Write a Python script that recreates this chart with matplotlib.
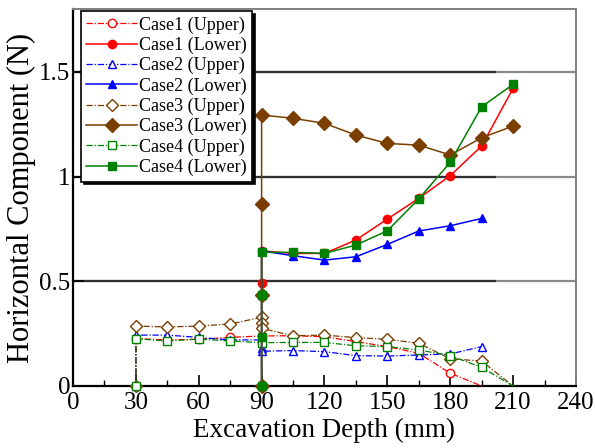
import matplotlib
matplotlib.use("Agg")
import matplotlib.pyplot as plt
from matplotlib.ticker import MultipleLocator, FormatStrFormatter

plt.rcParams['font.family'] = ['Liberation Serif', 'DejaVu Serif']

# 数据：掘削深さ (mm) と水平成分 (N)
case1_up_x = [30, 30, 45, 60, 75, 90, 105, 120, 135, 150, 165, 180, 195]
case1_up_y = [0, 0.226, 0.22, 0.223, 0.232, 0.239, 0.24, 0.235, 0.212, 0.188, 0.156, 0.061, 0]
case1_lo_x = [90, 90, 90, 105, 120, 135, 150, 165, 180, 195, 210]
case1_lo_y = [0, 0.493, 0.645, 0.633, 0.633, 0.697, 0.797, 0.896, 1.004, 1.146, 1.421]

case2_up_x = [30, 30, 45, 60, 75, 90, 90, 90, 105, 120, 135, 150, 165, 180, 195]
case2_up_y = [0, 0.243, 0.243, 0.232, 0.22, 0.22, 0.18, 0.166, 0.169, 0.164, 0.145, 0.143, 0.148, 0.153, 0.188]
case2_lo_x = [90, 90, 90, 105, 120, 135, 150, 165, 180, 195]
case2_lo_y = [0, 0.434, 0.645, 0.622, 0.601, 0.617, 0.676, 0.740, 0.765, 0.800]

case3_up_x = [30, 30, 45, 60, 75, 90, 90, 90, 105, 120, 135, 150, 165, 180, 195, 210]
case3_up_y = [0, 0.286, 0.282, 0.286, 0.296, 0.328, 0.299, 0.275, 0.240, 0.243, 0.231, 0.223, 0.204, 0.130, 0.119, 0]
case3_lo_x = [90, 90, 90, 90, 105, 120, 135, 150, 165, 180, 195, 210]
case3_lo_y = [0, 0.434, 0.870, 1.294, 1.278, 1.254, 1.198, 1.158, 1.150, 1.103, 1.185, 1.241]

case4_up_x = [30, 30, 45, 60, 75, 90, 105, 120, 135, 150, 165, 180, 195, 210]
case4_up_y = [0, 0.226, 0.215, 0.224, 0.215, 0.207, 0.208, 0.208, 0.192, 0.188, 0.172, 0.145, 0.089, 0]
case4_lo_x = [90, 90, 90, 90, 105, 120, 135, 150, 165, 180, 195, 210]
case4_lo_y = [0, 0.235, 0.434, 0.638, 0.638, 0.633, 0.673, 0.741, 0.893, 1.068, 1.333, 1.440]

labels = ['Case1 (Upper)', 'Case1 (Lower)', 'Case2 (Upper)', 'Case2 (Lower)',
          'Case3 (Upper)', 'Case3 (Lower)', 'Case4 (Upper)', 'Case4 (Lower)']

red = '#ff0000'
blue = '#0000ff'
brown = '#7a3e00'
green = '#008000'

fig = plt.figure(figsize=(5.95, 4.48), dpi=100)
ax = fig.add_axes([0.1227, 0.1384, 0.8453, 0.8416])

# 横グリッド（右側は薄い）
for yv in [0.5, 1.0, 1.5]:
    ax.axhline(yv, color='#8a8a8a', lw=1.6, zorder=1)
    ax.plot([0, 201.5], [yv, yv], color='#303030', lw=1.6, zorder=1.1)

up_dash = (0, (5, 1.5, 1, 1.5))
series = [
    (case1_up_x, case1_up_y, red, 'o', True),
    (case1_lo_x, case1_lo_y, red, 'o', False),
    (case2_up_x, case2_up_y, blue, '^', True),
    (case2_lo_x, case2_lo_y, blue, '^', False),
    (case3_up_x, case3_up_y, brown, 'D', True),
    (case3_lo_x, case3_lo_y, brown, 'D', False),
    (case4_up_x, case4_up_y, green, 's', True),
    (case4_lo_x, case4_lo_y, green, 's', False),
]

for (xs, ys, c, m, upper), lab in zip(series, labels):
    if upper:
        # 最後の0点はマーカーなし
        n = len(xs) - 1 if ys[-1] == 0 else len(xs)
        ax.plot(xs, ys, color=c, ls=up_dash, lw=0.9, marker=m, ms=6.5 if m == 'D' else 6,
                mfc='white', mec=c, mew=1.0, label=lab, zorder=3, clip_on=False,
                markevery=list(range(n)))
    else:
        ax.plot(xs, ys, color=c, ls='-', lw=1.1, marker=m, ms=7 if m == 'D' else 6,
                mfc=c, mec=c, label=lab, zorder=4, clip_on=False)

ax.set_xlim(0, 240)
ax.set_ylim(0, 1.8)
ax.xaxis.set_major_locator(MultipleLocator(30))
ax.xaxis.set_minor_locator(MultipleLocator(15))
ax.set_yticks([0, 0.5, 1, 1.5])
ax.yaxis.set_major_formatter(FormatStrFormatter('%g'))

ax.tick_params(axis='both', which='major', direction='in', length=8, width=1.2,
               labelsize=18, pad=4)
ax.tick_params(axis='x', which='minor', direction='in', length=4, width=1)
ax.tick_params(axis='y', pad=2)

for s in ['left', 'bottom']:
    ax.spines[s].set_linewidth(1.6)
    ax.spines[s].set_color('black')
for s in ['top', 'right']:
    ax.spines[s].set_linewidth(1.4)
    ax.spines[s].set_color('#808080')

ax.set_xlabel('Excavation Depth (mm)', fontsize=19.5, labelpad=3)
ax.set_ylabel('Horizontal Component (N)', fontsize=22, labelpad=2)

leg = ax.legend(loc='upper left', bbox_to_anchor=(0.016, 0.995), fontsize=13,
                frameon=True, fancybox=False, shadow={'color': 'black', 'alpha': 1},
                handlelength=2.8, handletextpad=0.1, labelspacing=0.17,
                borderpad=0.3, borderaxespad=0.0)
leg.get_frame().set_edgecolor('black')
leg.get_frame().set_linewidth(1.2)
leg.set_zorder(10)

fig.savefig('out.png', dpi=100)
